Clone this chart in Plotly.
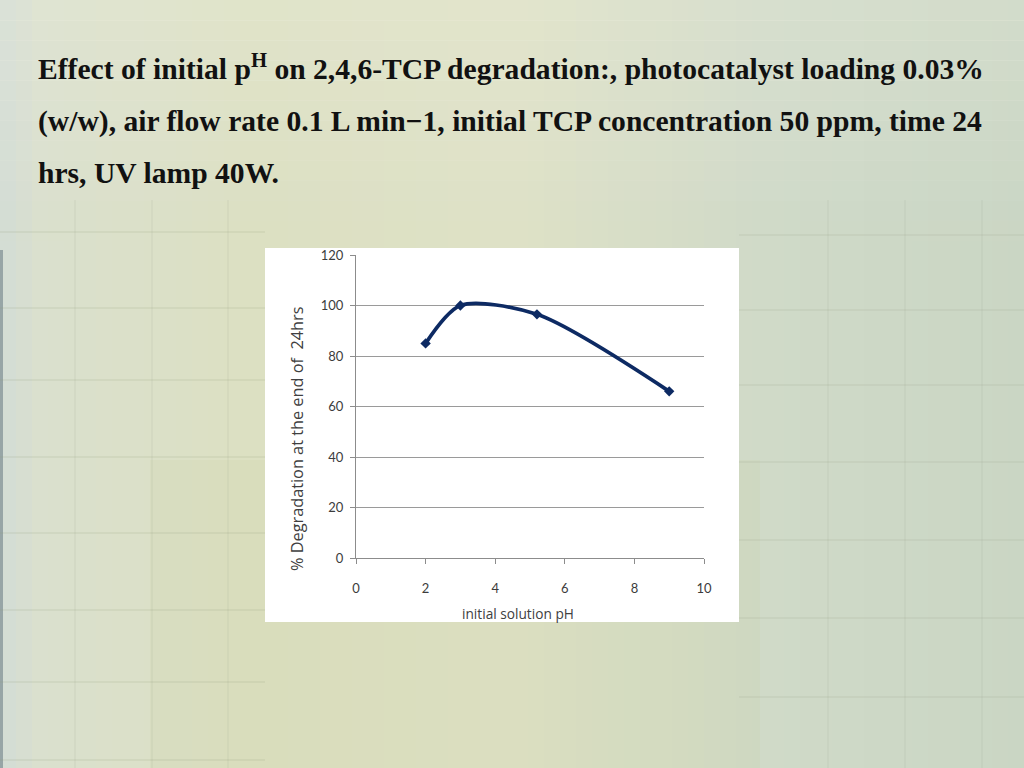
import plotly.graph_objects as go

# ---- data ----
ph_values = [2, 3, 5.2, 9]
degradation = [85, 100, 96.5, 66]
x_ticks = [0, 2, 4, 6, 8, 10]
y_ticks = [0, 20, 40, 60, 80, 100, 120]
x_title = "initial solution pH"
y_title = "% Degradation at the end of  24hrs"
title_lines = [
    "Effect of initial p<sup>H</sup> on 2,4,6-TCP degradation:, photocatalyst loading 0.03%",
    "(w/w), air flow rate 0.1 L min\u22121, initial TCP concentration 50 ppm, time 24",
    "hrs, UV lamp 40W.",
]

W, H = 1024, 768

fig = go.Figure()
fig.add_trace(go.Scatter(
    x=ph_values, y=degradation, mode="lines+markers",
    line=dict(color="#0d2a63", width=3.7, shape="spline", smoothing=0.8),
    marker=dict(symbol="diamond", size=8, color="#0d2a63"),
    showlegend=False, hoverinfo="x+y",
))

# background gradient strips (styling)
stops = [(0, (210, 220, 214)), (40, (218, 224, 206)), (250, (220, 224, 194)),
         (520, (222, 225, 198)), (760, (208, 218, 200)), (1024, (202, 214, 196))]

def col_at(x):
    for (xa, ca), (xb, cb) in zip(stops[:-1], stops[1:]):
        if xa <= x <= xb:
            t = (x - xa) / (xb - xa)
            return "rgb(%d,%d,%d)" % tuple(round(a + (b - a) * t) for a, b in zip(ca, cb))
    return "rgb(%d,%d,%d)" % stops[-1][1]

shapes = []
step = 16
for x0 in range(0, W, step):
    shapes.append(dict(type="rect", xref="paper", yref="paper",
                       x0=x0 / W, x1=(x0 + step + 1) / W, y0=0, y1=1,
                       fillcolor=col_at(x0 + step / 2), line=dict(width=0), layer="below"))
# soft vertical tint: lighter top, a bit more saturated lower-middle
for k in range(12):
    y0 = k * 20
    shapes.append(dict(type="rect", xref="paper", yref="paper", x0=0, x1=1,
                       y0=1 - (y0 + 21) / H, y1=1 - y0 / H,
                       fillcolor="rgba(240,240,228,%.3f)" % (0.22 * (1 - k / 12)),
                       line=dict(width=0), layer="below"))
shapes.append(dict(type="rect", xref="paper", yref="paper", x0=150 / W, x1=760 / W, y0=0, y1=1 - 460 / H,
                   fillcolor="rgba(200,205,150,0.12)", line=dict(width=0), layer="below"))
# left dark edge
shapes.append(dict(type="rect", xref="paper", yref="paper", x0=0, x1=3 / W, y0=0, y1=1 - 250 / H,
                   fillcolor="rgba(90,110,120,0.5)", line=dict(width=0), layer="below"))
# faint tile lines
for yy in [232, 308, 380, 457, 533, 610, 682, 760]:
    shapes.append(dict(type="line", xref="paper", yref="paper", x0=0, x1=265 / W,
                       y0=1 - yy / H, y1=1 - yy / H,
                       line=dict(color="rgba(150,160,130,0.14)", width=2), layer="below"))
for yy in [235, 310, 385, 462, 540, 618, 697]:
    shapes.append(dict(type="line", xref="paper", yref="paper", x0=739 / W, x1=1,
                       y0=1 - yy / H, y1=1 - yy / H,
                       line=dict(color="rgba(150,160,130,0.12)", width=2), layer="below"))
for xx in [75, 152, 228, 828, 905, 982]:
    shapes.append(dict(type="line", xref="paper", yref="paper", x0=xx / W, x1=xx / W,
                       y0=0, y1=1 - 200 / H, line=dict(color="rgba(150,160,130,0.12)", width=1.5),
                       layer="below"))
# white chart box
shapes.append(dict(type="rect", xref="paper", yref="paper",
                   x0=265 / W, x1=739 / W, y0=1 - 622 / H, y1=1 - 248 / H,
                   fillcolor="white", line=dict(width=0), layer="below"))

annotations = []
line_y = [67, 122, 173]
for i, line in enumerate(title_lines):
    annotations.append(dict(
        text="<b>" + line + "</b>", xref="paper", yref="paper",
        x=36 / W, y=1 - line_y[i] / H, xanchor="left", yanchor="middle",
        showarrow=False, font=dict(family="Liberation Serif", size=29.6, color="#111111"),
    ))
# axis titles placed as annotations to match the reference positions
annotations.append(dict(
    text=x_title, xref="paper", yref="paper", x=518 / W, y=1 - 613 / H,
    xanchor="center", yanchor="middle", showarrow=False,
    font=dict(family="Open Sans", size=13.7, color="#404040"),
))
annotations.append(dict(
    text=y_title, xref="paper", yref="paper", x=297 / W, y=1 - 439 / H,
    xanchor="center", yanchor="middle", showarrow=False, textangle=-90,
    font=dict(family="Open Sans", size=16.3, color="#404040"),
))

axis_font = dict(family="Lato", size=13, color="#3c3c3c")
fig.update_layout(
    width=W, height=H, autosize=False,
    margin=dict(l=0, r=0, t=0, b=0, pad=0, autoexpand=False),
    paper_bgcolor="#d8dcc0",
    plot_bgcolor="rgba(0,0,0,0)",
    shapes=shapes,
    annotations=annotations,
    xaxis=dict(domain=[356 / W, 704 / W], range=[0, 10], tickvals=x_ticks, automargin=False,
               showgrid=False, zeroline=False, showline=True, linecolor="#8c8c8c", linewidth=1,
               ticks="outside", ticklen=5, tickcolor="#8c8c8c", tickfont=axis_font,
               ticklabelstandoff=13, fixedrange=True),
    yaxis=dict(domain=[1 - 558 / H, 1 - 255 / H], range=[0, 120], tickvals=y_ticks, automargin=False,
               showgrid=True, gridcolor="#9a9a9a", gridwidth=1, zeroline=False,
               showline=True, linecolor="#8c8c8c", linewidth=1,
               ticks="outside", ticklen=5, tickcolor="#8c8c8c", tickfont=axis_font,
               ticklabelstandoff=4, fixedrange=True),
)

fig.write_html("out.html", config={"displayModeBar": False, "responsive": False},
               post_script="document.body.style.margin='0';document.body.style.overflow='hidden';")
